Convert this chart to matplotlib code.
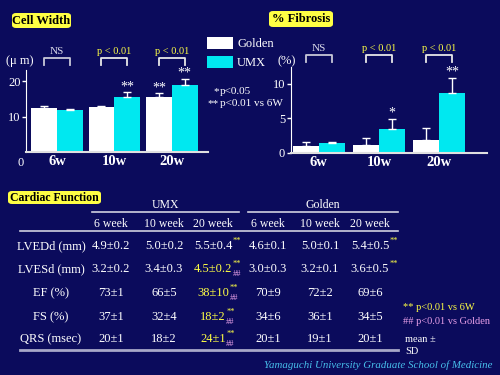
import matplotlib
matplotlib.use("Agg")
import matplotlib.pyplot as plt
from matplotlib.patches import FancyBboxPatch
import numpy as np

# ---------------- data ----------------
groups = ["6w", "10w", "20w"]
series_names = ["Golden", "UMX"]

cw_golden = [12.3, 12.7, 15.5]
cw_golden_err = [0.6, 0.3, 1.1]
cw_umx = [11.8, 15.5, 18.9]
cw_umx_err = [0.4, 1.4, 1.7]
cw_pvals = ["NS", "p < 0.01", "p < 0.01"]
cw_golden_sig = ["", "", "**"]
cw_umx_sig = ["", "**", "**"]

fb_golden = [1.05, 1.15, 1.9]
fb_golden_err = [0.6, 1.0, 1.7]
fb_umx = [1.4, 3.5, 8.7]
fb_umx_err = [0.2, 1.4, 2.2]
fb_pvals = ["NS", "p < 0.01", "p < 0.01"]
fb_golden_sig = ["", "", ""]
fb_umx_sig = ["", "*", "**"]

table_rows = ["LVEDd (mm)", "LVESd (mm)", "EF (%)", "FS (%)", "QRS (msec)"]
table_cols = ["6 week", "10 week", "20 week"]
umx_table = [["4.9\u00b10.2", "5.0\u00b10.2", "5.5\u00b10.4"],
             ["3.2\u00b10.2", "3.4\u00b10.3", "4.5\u00b10.2"],
             ["73\u00b11", "66\u00b15", "38\u00b110"],
             ["37\u00b11", "32\u00b14", "18\u00b12"],
             ["20\u00b11", "18\u00b12", "24\u00b11"]]
umx_marks = [["", "", "**"], ["", "", "**##"], ["", "", "**##"], ["", "", "**##"], ["", "", "**##"]]
golden_table = [["4.6\u00b10.1", "5.0\u00b10.1", "5.4\u00b10.5"],
                ["3.0\u00b10.3", "3.2\u00b10.1", "3.6\u00b10.5"],
                ["70\u00b19", "72\u00b12", "69\u00b16"],
                ["34\u00b16", "36\u00b11", "34\u00b15"],
                ["20\u00b11", "19\u00b11", "20\u00b11"]]
golden_marks = [["", "", "**"], ["", "", "**"], ["", "", ""], ["", "", ""], ["", "", ""]]

# ---------------- style ----------------
BG = "#0b0b5c"
CYAN = "#00e8f0"
YEL = "#ffff44"
PINK = "#e8a0e8"
SERIF = "Liberation Serif"
plt.rcParams["font.family"] = [SERIF, "DejaVu Serif"]

W, H = 500, 375
fig = plt.figure(figsize=(5, 3.75), dpi=100, facecolor=BG)


def fx(x):
    return x / W


def fy(y):
    return 1 - y / H


def ftext(x, y, s, **kw):
    kw.setdefault("color", "white")
    kw.setdefault("ha", "center")
    kw.setdefault("va", "center")
    return fig.text(fx(x), fy(y), s, **kw)


def title_box(x0, x1, y0, y1, s, size):
    box = FancyBboxPatch((fx(x0), fy(y1)), fx(x1 - x0), (y1 - y0) / H,
                         boxstyle="round,pad=0,rounding_size=0.008",
                         transform=fig.transFigure, facecolor=YEL,
                         edgecolor="none", zorder=1)
    fig.patches.append(box)
    ftext((x0 + x1) / 2, (y0 + y1) / 2 + 0.5, s, color="black",
          fontsize=size, fontweight="bold", zorder=2)


def bar_panel(rect, golden, gerr, umx, uerr, pvals, gsig, usig, ylim, ticks,
              xlim, width, px_per_unit, sig_gap):
    ax = fig.add_axes(rect)
    ax.set_facecolor("none")
    x = np.arange(len(groups))
    ax.bar(x - width / 2, golden, width, color="white", edgecolor="none",
           label=series_names[0])
    ax.bar(x + width / 2, umx, width, color=CYAN, edgecolor="none",
           label=series_names[1])
    ax.errorbar(x - width / 2, golden, yerr=[np.zeros(3), gerr], fmt="none",
                ecolor="white", elinewidth=1, capsize=3, capthick=1)
    ax.errorbar(x + width / 2, umx, yerr=[np.zeros(3), uerr], fmt="none",
                ecolor="white", elinewidth=1, capsize=3, capthick=1)
    for i in range(3):
        if gsig[i]:
            ax.text(x[i] - width / 2, golden[i] + gerr[i] + sig_gap, gsig[i],
                    color="white", ha="center", va="bottom", fontsize=10)
        if usig[i]:
            ax.text(x[i] + width / 2, umx[i] + uerr[i] + sig_gap, usig[i],
                    color="white", ha="center", va="bottom", fontsize=10)
        # bracket
        top = ylim[1] + 12 / px_per_unit
        leg = ylim[1] + 5 / px_per_unit
        bcol = "#c8c8d8" if pvals[i] == "NS" else "#e8e8e8"
        ax.plot([x[i] - width / 2, x[i] - width / 2, x[i] + width / 2, x[i] + width / 2],
                [leg, top, top, leg], color=bcol, lw=1.3, clip_on=False)
        ax.text(x[i], top + 2 / px_per_unit, pvals[i],
                color="#d8d8e8" if pvals[i] == "NS" else YEL,
                ha="center", va="bottom",
                fontsize=8 if pvals[i] == "NS" else 7.5)
    ax.set_xlim(*xlim)
    ax.set_ylim(*ylim)
    ax.set_yticks(ticks)
    ax.set_xticks(x)
    ax.set_xticklabels(groups, fontsize=10.5, fontweight="bold", color="white")
    ax.tick_params(axis="x", length=0, pad=2)
    ax.tick_params(axis="y", colors="white", labelsize=9, length=3, width=1, pad=1)
    for s in ["top", "right"]:
        ax.spines[s].set_visible(False)
    ax.spines["left"].set_color("white")
    ax.spines["bottom"].set_color("#e0e0e0")
    ax.spines["bottom"].set_linewidth(1.5)
    return ax


# ---------------- Cell Width ----------------
cw_px = (152.4 - 81) / 20.0
cw_top = 23.0
ax1 = bar_panel([fx(26), fy(152.4), fx(208 - 26), (cw_top * cw_px) / H],
                cw_golden, cw_golden_err, cw_umx, cw_umx_err, cw_pvals,
                cw_golden_sig, cw_umx_sig, (0, cw_top), [10, 20],
                (-0.54, 2.63), 0.45, cw_px, -0.3)
ftext(21, 163, "0", fontsize=9)
ftext(20, 61, "(\u03bc m)", fontsize=9)
title_box(12, 71, 13, 28, "Cell Width", 9)

# ---------------- % Fibrosis ----------------
fb_px = (153 - 84) / 10.0
fb_top = (153 - 67) / fb_px
ax2 = bar_panel([fx(290.7), fy(153), fx(487 - 290.7), (fb_top * fb_px) / H],
                fb_golden, fb_golden_err, fb_umx, fb_umx_err, fb_pvals,
                fb_golden_sig, fb_umx_sig, (0, fb_top), [0, 5, 10],
                (-0.47, 2.8), 0.43, fb_px, -0.1)
ftext(287, 61, "(%)", fontsize=9)
title_box(269, 333, 11, 27, "% Fibrosis", 9)

# legend
fig.legend(handles=ax1.containers[:2], labels=series_names,
           loc="upper left", bbox_to_anchor=(fx(207), fy(37)),
           frameon=False, handlelength=2.1, handleheight=1.05,
           labelspacing=0.5, handletextpad=0.3, fontsize=9,
           labelcolor="white", borderaxespad=0, borderpad=0)
ftext(219, 92, "*", ha="right", fontsize=8)
ftext(220, 92, "p<0.05", ha="left", fontsize=8)
ftext(219, 104, "**", ha="right", fontsize=8)
ftext(220, 104, "p<0.01 vs 6W", ha="left", fontsize=8)

# ---------------- Cardiac Function table ----------------
title_box(8, 101, 191, 204, "Cardiac Function", 8.5)
ftext(165, 205, "UMX", fontsize=8.5)
ftext(323, 205, "Golden", fontsize=8.5)
for (x0, x1, y, c, lw) in [(92, 239, 212, "#d0d0e0", 1.2),
                           (248, 398, 212, "#d0d0e0", 1.2),
                           (20, 398, 231, "#d0d0e0", 1.2),
                           (20, 398, 350, "#a8a8c8", 2)]:
    fig.lines.append(plt.Line2D([fx(x0), fx(x1)], [fy(y), fy(y)],
                                transform=fig.transFigure, color=c, lw=lw))

umx_cx = [111, 164, 213]
gold_cx = [268, 320, 370]
row_y = [246, 269, 293, 317, 339]
for j, c in enumerate(table_cols):
    ftext(umx_cx[j], 224, c, fontsize=8.5)
    ftext(gold_cx[j], 224, c, fontsize=8.5)

fig.canvas.draw()
rend = fig.canvas.get_renderer()
for i, r in enumerate(table_rows):
    ftext(51, row_y[i], r, fontsize=9)
    for j in range(3):
        for cx, tab, marks in [(umx_cx[j], umx_table, umx_marks),
                               (gold_cx[j], golden_table, golden_marks)]:
            mark = marks[i][j]
            col = YEL if "##" in mark else "white"
            t = ftext(cx, row_y[i], tab[i][j], color=col, fontsize=9)
            if mark:
                bb = t.get_window_extent(renderer=rend)
                xr_px = bb.x1
                ftext(xr_px + 0.5, row_y[i] - 5, "**", color=YEL, fontsize=6,
                      ha="left")
                if "##" in mark:
                    ftext(xr_px + 0.5, row_y[i] + 4.5, "##", color=PINK,
                          fontsize=6, ha="left")

ftext(403, 308, "** p<0.01 vs 6W", color=YEL, fontsize=7.5, ha="left")
ftext(403, 322, "## p<0.01 vs Golden", color=PINK, fontsize=7.5, ha="left")
ftext(405, 339, "mean \u00b1", fontsize=7.5, ha="left")
ftext(405, 351, "SD", fontsize=7.5, ha="left")

ftext(378, 365, "Yamaguchi University Graduate School of Medicine",
      color="#48c0ec", fontsize=7.8, style="italic")

fig.savefig("out.png", dpi=100, facecolor=BG)
